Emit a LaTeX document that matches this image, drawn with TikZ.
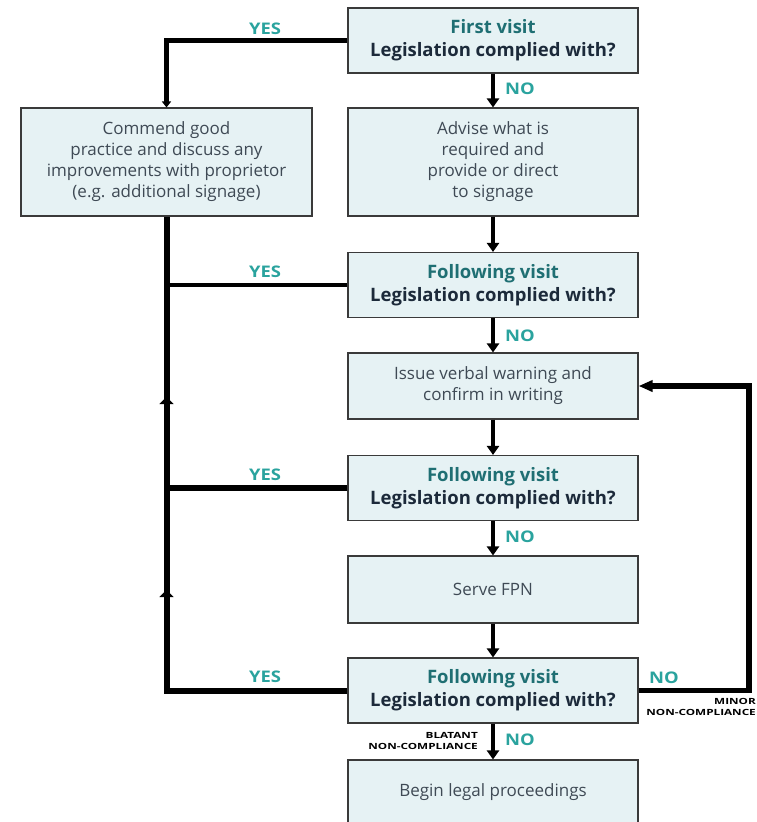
\documentclass[tikz,border=0pt]{standalone}
\usepackage{fontspec}
\setmainfont{Open Sans}
\usetikzlibrary{arrows.meta}

\definecolor{boxfill}{HTML}{E6F2F4}
\definecolor{boxline}{HTML}{3A3A3A}
\definecolor{headteal}{HTML}{1F6F73}
\definecolor{headnavy}{HTML}{1C2A3A}
\definecolor{bodygrey}{HTML}{3F4A55}
\definecolor{answer}{HTML}{2AA39E}

\tikzset{
  flowchart/.style={
    box/.style={draw=boxline, fill=boxfill, line width=1.1pt, minimum width=290pt,
        inner sep=0pt, align=center, text=bodygrey,
        font=\fontsize{17}{21}\selectfont},
    answer/.style={text=answer, font=\bfseries\fontsize{16}{18}\selectfont, inner sep=0pt},
    remark/.style={font=\bfseries\fontsize{8.5}{11}\selectfont, align=right, inner sep=0pt},
    down/.style={line width=4.5pt, -{Triangle[length=9pt, width=12pt]}},
    yes/.style={line width=4.5pt},
    trunk/.style={line width=6pt},
    tip/.style={line width=6pt, -{Triangle[length=7pt, width=14pt]}},
    back/.style={line width=5.5pt, -{Triangle[length=14pt, width=11pt]}}
  }
}
\newcommand{\visit}[1]{\textcolor{headteal}{#1}\\\textcolor{headnavy}{Legislation complied with?}}
\newcommand{\squeeze}[2][1.35]{\scalebox{#1}[1]{#2}}

\begin{document}
\begin{tikzpicture}[x=1pt, y=-1pt, flowchart]
            \path[use as bounding box, clip] (0,0) rectangle (756,822);
            \tikzstyle{question}=[box, minimum height=65pt, font=\bfseries\fontsize{18.5}{23}\selectfont]
            \tikzstyle{action}=[box, minimum height=66pt]

            \node[question] (Q1) at (493,40.5)  {\visit{First visit}};
            \node[action, minimum height=108pt] (A1) at (493,162)  {Advise what is\\required and\\provide or direct\\to signage};
            \node[action, minimum height=108pt, minimum width=291pt] (C1) at (166.5,162)  {Commend good\\practice and discuss any\\improvements with proprietor\\(e.g. additional signage)};
            \node[question] (Q2) at (493,285)  {\visit{Following visit}};
            \node[action] (A2) at (493,386)  {Issue verbal warning and\\confirm in writing};
            \node[question] (Q3) at (493,488)  {\visit{Following visit}};
            \node[action, minimum height=67pt] (A3) at (493,589.5)  {Serve FPN};
            \node[question] (Q4) at (493,690.5)  {\visit{Following visit}};
            \node[action, minimum height=64pt] (A4) at (493,792)  {Begin legal proceedings};

            \coordinate (R) at (749,690.5);

            \draw[down] (Q1) edge (A1) (A1) edge (Q2) (Q2) edge (A2) (A2) edge (Q3);
            \draw[down] (Q3) edge (A3) (A3) edge (Q4) (Q4) edge (A4);

            \draw[yes, -{Triangle[length=6pt, width=9pt]}] (Q1) -| (C1);
            \draw[trunk] (Q4) -| (C1);
            \draw[yes] (Q2) -- (Q2 -| C1);
            \draw[yes, line width=5.5pt] (Q3) -- (Q3 -| C1);
            \foreach \y in {397,590}
                \draw[tip] (C1.south |- 0,\y+8) -- (C1.south |- 0,\y);
            \draw[back] (Q4) -- (R) |- (A2);

            \node[answer] (Y1) at (265,29)  {\squeeze[1.15]{YES}};
            \node[answer] (Y2) at (265,272)  {\squeeze[1.15]{YES}};
            \node[answer] (Y3) at (265,475)  {\squeeze[1.15]{YES}};
            \node[answer] (Y4) at (265,677)  {\squeeze[1.15]{YES}};

            \node[answer] (N1) at (520,89)  {\squeeze[1.15]{NO}};
            \node[answer] (N2) at (520,336)  {\squeeze[1.15]{NO}};
            \node[answer] (N3) at (520,537)  {\squeeze[1.15]{NO}};
            \node[answer] (N4) at (520,740)  {\squeeze[1.15]{NO}};
            \node[answer] (N5) at (664,678)  {\squeeze[1.15]{NO}};

            \node[remark, anchor=north east] (M1) at (756,698)  {\squeeze[1.38]{MINOR}\\\squeeze[1.38]{NON-COMPLIANCE}};
            \node[remark, anchor=south east] (M2) at (478,750)  {\squeeze[1.38]{BLATANT}\\\squeeze[1.38]{NON-COMPLIANCE}};

        \end{tikzpicture}
\end{document}
